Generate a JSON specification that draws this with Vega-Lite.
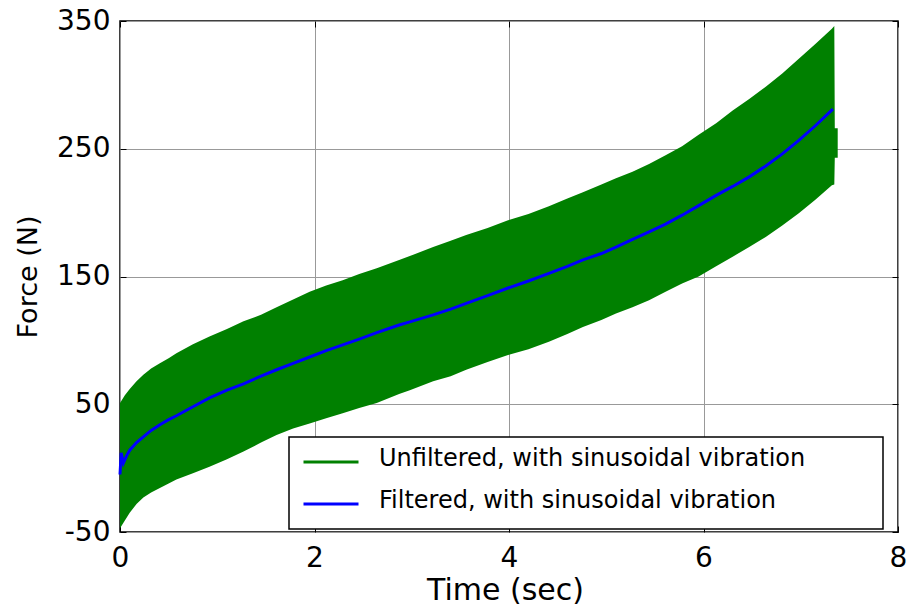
{
  "$schema": "https://vega.github.io/schema/vega-lite/v6.json",
  "width": 778,
  "height": 511,
  "autosize": {"type": "none"},
  "padding": {"left": 120, "top": 21, "right": 12, "bottom": 75},
  "background": "white",
  "config": {
    "view": {"stroke": "black", "strokeWidth": 1.5},
    "font": "DejaVu Sans",
    "axis": {
      "labelFont": "DejaVu Sans",
      "titleFont": "DejaVu Sans",
      "labelColor": "black",
      "titleColor": "black",
      "titleFontWeight": "normal",
      "tickColor": "black",
      "tickWidth": 1,
      "domain": false,
      "gridColor": "#999999",
      "gridWidth": 1,
      "labelFlush": false,
      "labelOverlap": false
    },
    "legend": {
      "orient": "none", "legendX": 169, "legendY": 416,
      "symbolType": "stroke", "symbolSize": 3025, "symbolStrokeWidth": 3, "symbolOffset": 0,
      "clipHeight": 24, "rowPadding": 15,
      "labelFont": "DejaVu Sans", "labelFontSize": 24, "labelColor": "black",
      "labelOffset": 19, "labelLimit": 1000,
      "titleOrient": "right", "titlePadding": 65, "titleFontSize": 10, "titleColor": "white",
      "padding": 13, "strokeColor": "black", "fillColor": "white"
    }
  },
  "datasets": {
    "band": [
      {"t": 0, "upper": 51, "lower": -47, "series": "Unfiltered, with sinusoidal vibration"},
      {"t": 0.05, "upper": 57, "lower": -41, "series": "Unfiltered, with sinusoidal vibration"},
      {"t": 0.1, "upper": 62, "lower": -35, "series": "Unfiltered, with sinusoidal vibration"},
      {"t": 0.17, "upper": 68, "lower": -28, "series": "Unfiltered, with sinusoidal vibration"},
      {"t": 0.24, "upper": 73, "lower": -23, "series": "Unfiltered, with sinusoidal vibration"},
      {"t": 0.32, "upper": 78, "lower": -19, "series": "Unfiltered, with sinusoidal vibration"},
      {"t": 0.41, "upper": 82, "lower": -15.5, "series": "Unfiltered, with sinusoidal vibration"},
      {"t": 0.5, "upper": 86, "lower": -12, "series": "Unfiltered, with sinusoidal vibration"},
      {"t": 0.58, "upper": 90, "lower": -9, "series": "Unfiltered, with sinusoidal vibration"},
      {"t": 0.75, "upper": 97, "lower": -4, "series": "Unfiltered, with sinusoidal vibration"},
      {"t": 0.92, "upper": 103, "lower": 1, "series": "Unfiltered, with sinusoidal vibration"},
      {"t": 1.1, "upper": 109, "lower": 7, "series": "Unfiltered, with sinusoidal vibration"},
      {"t": 1.27, "upper": 115, "lower": 13, "series": "Unfiltered, with sinusoidal vibration"},
      {"t": 1.45, "upper": 120, "lower": 20, "series": "Unfiltered, with sinusoidal vibration"},
      {"t": 1.61, "upper": 126, "lower": 26, "series": "Unfiltered, with sinusoidal vibration"},
      {"t": 1.78, "upper": 132, "lower": 31, "series": "Unfiltered, with sinusoidal vibration"},
      {"t": 1.95, "upper": 138, "lower": 35, "series": "Unfiltered, with sinusoidal vibration"},
      {"t": 2.12, "upper": 143, "lower": 39, "series": "Unfiltered, with sinusoidal vibration"},
      {"t": 2.29, "upper": 147, "lower": 43, "series": "Unfiltered, with sinusoidal vibration"},
      {"t": 2.46, "upper": 152, "lower": 47, "series": "Unfiltered, with sinusoidal vibration"},
      {"t": 2.64, "upper": 156.5, "lower": 51, "series": "Unfiltered, with sinusoidal vibration"},
      {"t": 2.87, "upper": 163, "lower": 58, "series": "Unfiltered, with sinusoidal vibration"},
      {"t": 2.98, "upper": 166, "lower": 61, "series": "Unfiltered, with sinusoidal vibration"},
      {"t": 3.22, "upper": 173, "lower": 68, "series": "Unfiltered, with sinusoidal vibration"},
      {"t": 3.4, "upper": 178, "lower": 72, "series": "Unfiltered, with sinusoidal vibration"},
      {"t": 3.56, "upper": 182.5, "lower": 77, "series": "Unfiltered, with sinusoidal vibration"},
      {"t": 3.78, "upper": 188, "lower": 83, "series": "Unfiltered, with sinusoidal vibration"},
      {"t": 3.99, "upper": 194, "lower": 88.5, "series": "Unfiltered, with sinusoidal vibration"},
      {"t": 4.2, "upper": 199, "lower": 93, "series": "Unfiltered, with sinusoidal vibration"},
      {"t": 4.41, "upper": 205, "lower": 99, "series": "Unfiltered, with sinusoidal vibration"},
      {"t": 4.6, "upper": 211, "lower": 105, "series": "Unfiltered, with sinusoidal vibration"},
      {"t": 4.76, "upper": 216, "lower": 110.5, "series": "Unfiltered, with sinusoidal vibration"},
      {"t": 4.95, "upper": 222, "lower": 116, "series": "Unfiltered, with sinusoidal vibration"},
      {"t": 5.1, "upper": 227, "lower": 121, "series": "Unfiltered, with sinusoidal vibration"},
      {"t": 5.27, "upper": 232, "lower": 126, "series": "Unfiltered, with sinusoidal vibration"},
      {"t": 5.44, "upper": 238, "lower": 131.5, "series": "Unfiltered, with sinusoidal vibration"},
      {"t": 5.61, "upper": 245, "lower": 138, "series": "Unfiltered, with sinusoidal vibration"},
      {"t": 5.78, "upper": 252, "lower": 144.5, "series": "Unfiltered, with sinusoidal vibration"},
      {"t": 5.95, "upper": 261, "lower": 150, "series": "Unfiltered, with sinusoidal vibration"},
      {"t": 6.13, "upper": 270, "lower": 158, "series": "Unfiltered, with sinusoidal vibration"},
      {"t": 6.3, "upper": 280, "lower": 165.5, "series": "Unfiltered, with sinusoidal vibration"},
      {"t": 6.47, "upper": 289, "lower": 173, "series": "Unfiltered, with sinusoidal vibration"},
      {"t": 6.64, "upper": 298.5, "lower": 181, "series": "Unfiltered, with sinusoidal vibration"},
      {"t": 6.81, "upper": 309, "lower": 190, "series": "Unfiltered, with sinusoidal vibration"},
      {"t": 6.98, "upper": 320.5, "lower": 199.5, "series": "Unfiltered, with sinusoidal vibration"},
      {"t": 7.15, "upper": 332, "lower": 210, "series": "Unfiltered, with sinusoidal vibration"},
      {"t": 7.32, "upper": 344, "lower": 221.5, "series": "Unfiltered, with sinusoidal vibration"},
      {"t": 7.345, "upper": 346, "lower": 222, "series": "Unfiltered, with sinusoidal vibration"},
      {"t": 7.35, "upper": 266, "lower": 243, "series": "Unfiltered, with sinusoidal vibration"},
      {"t": 7.38, "upper": 266, "lower": 243, "series": "Unfiltered, with sinusoidal vibration"}
    ],
    "filtered": [
      {"t": 0, "force": -5, "series": "Filtered, with sinusoidal vibration"},
      {"t": 0.012, "force": 12, "series": "Filtered, with sinusoidal vibration"},
      {"t": 0.035, "force": 4, "series": "Filtered, with sinusoidal vibration"},
      {"t": 0.07, "force": 10, "series": "Filtered, with sinusoidal vibration"},
      {"t": 0.1, "force": 14, "series": "Filtered, with sinusoidal vibration"},
      {"t": 0.17, "force": 20, "series": "Filtered, with sinusoidal vibration"},
      {"t": 0.24, "force": 24.5, "series": "Filtered, with sinusoidal vibration"},
      {"t": 0.32, "force": 29.5, "series": "Filtered, with sinusoidal vibration"},
      {"t": 0.41, "force": 34, "series": "Filtered, with sinusoidal vibration"},
      {"t": 0.5, "force": 38, "series": "Filtered, with sinusoidal vibration"},
      {"t": 0.58, "force": 41, "series": "Filtered, with sinusoidal vibration"},
      {"t": 0.75, "force": 48, "series": "Filtered, with sinusoidal vibration"},
      {"t": 0.92, "force": 55, "series": "Filtered, with sinusoidal vibration"},
      {"t": 1.1, "force": 61, "series": "Filtered, with sinusoidal vibration"},
      {"t": 1.27, "force": 66, "series": "Filtered, with sinusoidal vibration"},
      {"t": 1.45, "force": 72, "series": "Filtered, with sinusoidal vibration"},
      {"t": 1.61, "force": 77, "series": "Filtered, with sinusoidal vibration"},
      {"t": 1.78, "force": 82, "series": "Filtered, with sinusoidal vibration"},
      {"t": 1.95, "force": 87, "series": "Filtered, with sinusoidal vibration"},
      {"t": 2.12, "force": 92, "series": "Filtered, with sinusoidal vibration"},
      {"t": 2.29, "force": 96.5, "series": "Filtered, with sinusoidal vibration"},
      {"t": 2.46, "force": 101, "series": "Filtered, with sinusoidal vibration"},
      {"t": 2.64, "force": 106, "series": "Filtered, with sinusoidal vibration"},
      {"t": 2.87, "force": 112, "series": "Filtered, with sinusoidal vibration"},
      {"t": 2.98, "force": 114.5, "series": "Filtered, with sinusoidal vibration"},
      {"t": 3.22, "force": 120, "series": "Filtered, with sinusoidal vibration"},
      {"t": 3.4, "force": 124.5, "series": "Filtered, with sinusoidal vibration"},
      {"t": 3.56, "force": 129, "series": "Filtered, with sinusoidal vibration"},
      {"t": 3.78, "force": 135, "series": "Filtered, with sinusoidal vibration"},
      {"t": 3.99, "force": 141, "series": "Filtered, with sinusoidal vibration"},
      {"t": 4.2, "force": 146.5, "series": "Filtered, with sinusoidal vibration"},
      {"t": 4.41, "force": 152.5, "series": "Filtered, with sinusoidal vibration"},
      {"t": 4.6, "force": 158, "series": "Filtered, with sinusoidal vibration"},
      {"t": 4.76, "force": 163, "series": "Filtered, with sinusoidal vibration"},
      {"t": 4.95, "force": 168, "series": "Filtered, with sinusoidal vibration"},
      {"t": 5.1, "force": 173, "series": "Filtered, with sinusoidal vibration"},
      {"t": 5.27, "force": 179, "series": "Filtered, with sinusoidal vibration"},
      {"t": 5.44, "force": 185, "series": "Filtered, with sinusoidal vibration"},
      {"t": 5.61, "force": 191, "series": "Filtered, with sinusoidal vibration"},
      {"t": 5.78, "force": 198, "series": "Filtered, with sinusoidal vibration"},
      {"t": 5.95, "force": 205.5, "series": "Filtered, with sinusoidal vibration"},
      {"t": 6.13, "force": 213.5, "series": "Filtered, with sinusoidal vibration"},
      {"t": 6.3, "force": 220.5, "series": "Filtered, with sinusoidal vibration"},
      {"t": 6.47, "force": 228, "series": "Filtered, with sinusoidal vibration"},
      {"t": 6.64, "force": 236.5, "series": "Filtered, with sinusoidal vibration"},
      {"t": 6.81, "force": 246, "series": "Filtered, with sinusoidal vibration"},
      {"t": 6.98, "force": 256.5, "series": "Filtered, with sinusoidal vibration"},
      {"t": 7.15, "force": 268, "series": "Filtered, with sinusoidal vibration"},
      {"t": 7.33, "force": 281, "series": "Filtered, with sinusoidal vibration"}
    ]
  },
  "layer": [
    {
      "data": {"name": "band"},
      "mark": {"type": "area", "opacity": 1, "interpolate": "linear"},
      "encoding": {
        "x": {
          "field": "t", "type": "quantitative",
          "scale": {"domain": [0, 8], "nice": false, "zero": false},
          "axis": {
            "orient": "bottom", "values": [0, 2, 4, 6, 8],
            "title": "Time (sec)", "titleFontSize": 30,
            "titleX": 385, "titleY": 67, "titleAlign": "center", "titleBaseline": "alphabetic",
            "labelFontSize": 28, "labelPadding": 18, "tickSize": -6, "grid": true
          }
        },
        "y": {
          "field": "upper", "type": "quantitative",
          "scale": {"domain": [-50, 350], "nice": false, "zero": false},
          "axis": {
            "orient": "left", "values": [-50, 50, 150, 250, 350],
            "title": "Force (N)", "titleFontSize": 27,
            "titleX": -91.5, "titleY": 255.5, "titleAngle": -90, "titleAlign": "center", "titleBaseline": "middle",
            "labelFontSize": 28, "labelPadding": 16, "labelExpr": "'' + datum.value", "tickSize": -6, "grid": true
          }
        },
        "y2": {"field": "lower"},
        "color": {
          "field": "series", "type": "nominal",
          "scale": {
            "domain": ["Unfiltered, with sinusoidal vibration", "Filtered, with sinusoidal vibration"],
            "range": ["#008000", "#0000ff"]
          },
          "legend": {
            "title": "\u00a0",
            "encode": {
              "symbols": {"update": {"stroke": {"scale": "color", "field": "value"}, "strokeWidth": {"value": 3}, "opacity": {"value": 1}}},
              "labels": {"update": {"dy": {"value": -3}}},
              "legend": {"update": {"strokeWidth": {"value": 1.5}}}
            }
          }
        }
      }
    },
    {
      "data": {"name": "filtered"},
      "mark": {"type": "line", "strokeWidth": 3, "interpolate": "linear"},
      "encoding": {
        "x": {
          "field": "t", "type": "quantitative",
          "axis": {"orient": "top", "values": [0, 2, 4, 6, 8], "labels": false, "title": null, "grid": false, "tickSize": -6}
        },
        "y": {
          "field": "force", "type": "quantitative",
          "axis": {"orient": "right", "values": [-50, 50, 150, 250, 350], "labels": false, "title": null, "grid": false, "tickSize": -6}
        },
        "color": {
          "field": "series", "type": "nominal",
          "legend": {
            "title": "\u00a0",
            "encode": {
              "symbols": {"update": {"stroke": {"scale": "color", "field": "value"}, "strokeWidth": {"value": 3}, "opacity": {"value": 1}}},
              "labels": {"update": {"dy": {"value": -3}}},
              "legend": {"update": {"strokeWidth": {"value": 1.5}}}
            }
          }
        }
      }
    }
  ],
  "resolve": {"axis": {"x": "independent", "y": "independent"}}
}
